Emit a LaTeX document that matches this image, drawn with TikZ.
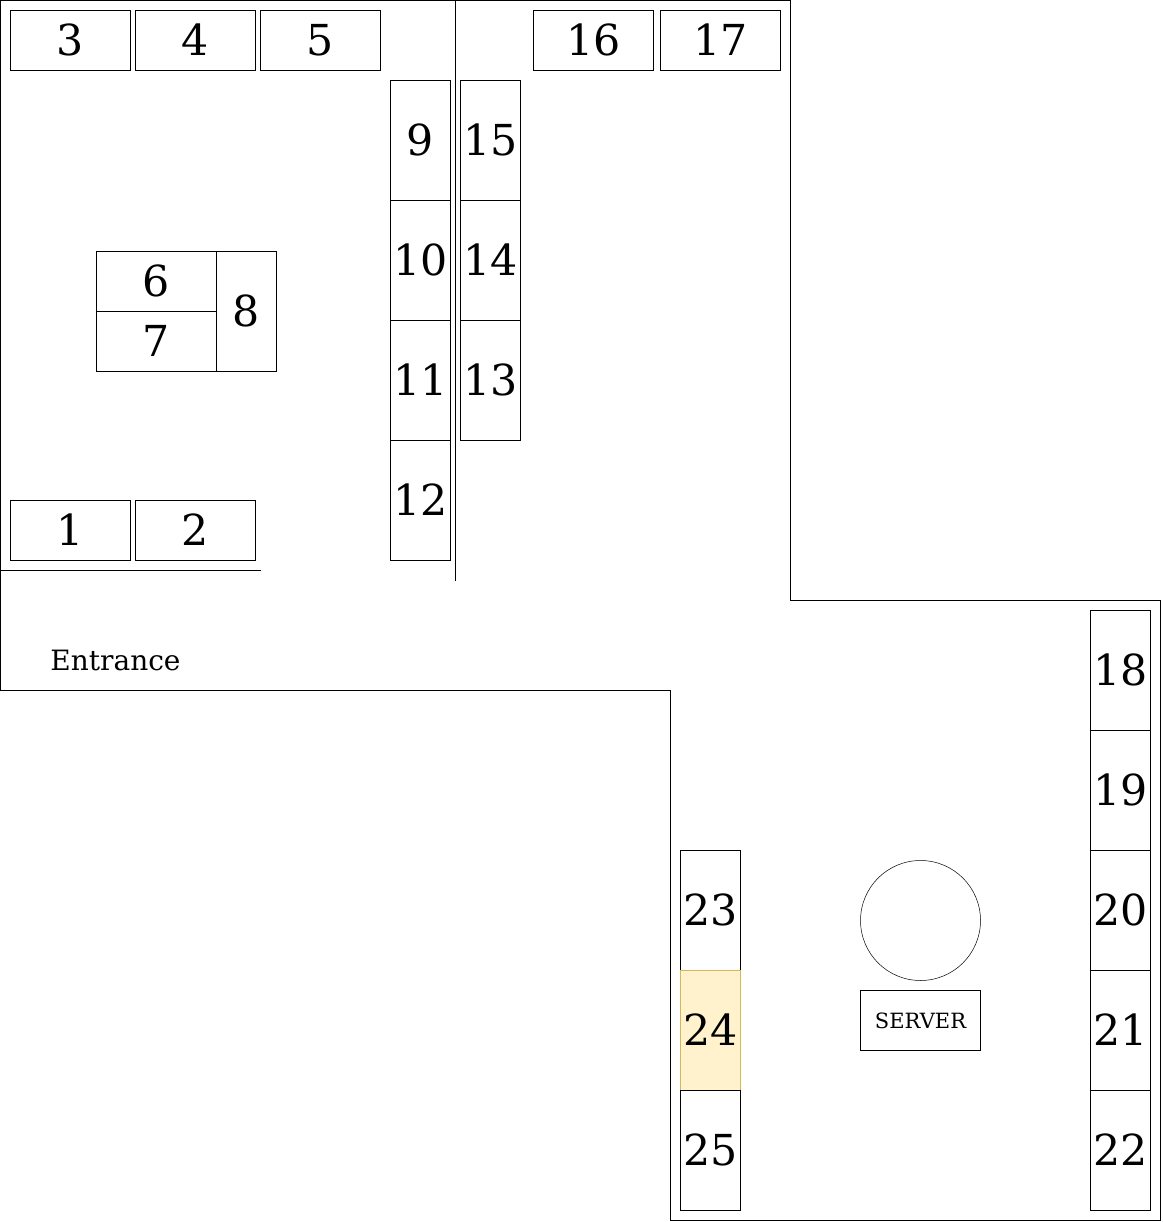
\documentclass[tikz,border=0pt]{standalone}
\usepackage{fontspec}
\setmainfont{DejaVu Serif}
\definecolor{hlfill}{HTML}{FFF2CC}
\definecolor{hldraw}{HTML}{D6B656}
\tikzset{
  wall/.style={draw=black,line width=0.6pt},
  seat/.style={draw=black,line width=0.5pt,fill=white,inner sep=0pt,font=\fontsize{42.7}{43}\selectfont,anchor=center,text height=31.3pt,text depth=2pt},
  wide/.style={seat,minimum width=120pt,minimum height=60pt},
  tall/.style={seat,minimum width=60pt,minimum height=120pt},
  lab/.style={font=\fontsize{28}{28}\selectfont,inner sep=0pt},
}
\begin{document}
\begin{tikzpicture}[x=1pt,y=-1pt]
\useasboundingbox (0,0) rectangle (1162,1222);
\coordinate (w1) at (0.5,0.5);
\coordinate (w2) at (790.5,0.5);
\coordinate (w3) at (790.5,600.5);
\coordinate (w4) at (1160.5,600.5);
\coordinate (w5) at (1160.5,1220.5);
\coordinate (w6) at (670.5,1220.5);
\coordinate (w7) at (670.5,690.5);
\coordinate (w8) at (0.5,690.5);
\draw[wall] (w1)--(w2)--(w3)--(w4)--(w5)--(w6)--(w7)--(w8)--cycle;
\coordinate (p1) at (455.5,0.5);
\coordinate (p2) at (455.5,580.5);
\draw[wall] (p1)--(p2);
\coordinate (q1) at (0.5,570.5);
\coordinate (q2) at (260.5,570.5);
\draw[wall] (q1)--(q2);
\node[wide] (n3) at (70.5,40.5) {3};
\node[wide] (n4) at (195.5,40.5) {4};
\node[wide] (n5) at (320.5,40.5) {5};
\node[wide] (n16) at (593.5,40.5) {16};
\node[wide] (n17) at (720.5,40.5) {17};
\node[tall] (n9) at (420.5,140.5) {9};
\node[tall] (n10) at (420.5,260.5) {10};
\node[tall] (n11) at (420.5,380.5) {11};
\node[tall] (n12) at (420.5,500.5) {12};
\node[tall] (n15) at (490.5,140.5) {15};
\node[tall] (n14) at (490.5,260.5) {14};
\node[tall] (n13) at (490.5,380.5) {13};
\node[wide] (n6) at (156.5,281.5) {6};
\node[wide] (n7) at (156.5,341.5) {7};
\node[tall] (n8) at (246.5,311.5) {8};
\node[wide] (n1) at (70.5,530.5) {1};
\node[wide] (n2) at (195.5,530.5) {2};
\node[tall] (n18) at (1120.5,670.5) {18};
\node[tall] (n19) at (1120.5,790.5) {19};
\node[tall] (n20) at (1120.5,910.5) {20};
\node[tall] (n21) at (1120.5,1030.5) {21};
\node[tall] (n22) at (1120.5,1150.5) {22};
\node[tall] (n23) at (710.5,910.5) {23};
\node[tall,draw=hldraw,fill=hlfill] (n24) at (710.5,1030.5) {24};
\node[tall] (n25) at (710.5,1150.5) {25};
\node[draw=black,line width=0.5pt,circle,minimum size=120pt,inner sep=0pt] (c) at (920.5,920.5) {};
\node[draw=black,line width=0.5pt,minimum width=120pt,minimum height=60pt,inner sep=0pt,font=\fontsize{21}{21}\selectfont] (s) at (920.5,1020.5) {SERVER};
\node[lab] (e) at (115.5,660.5) {Entrance};
\end{tikzpicture}
\end{document}
